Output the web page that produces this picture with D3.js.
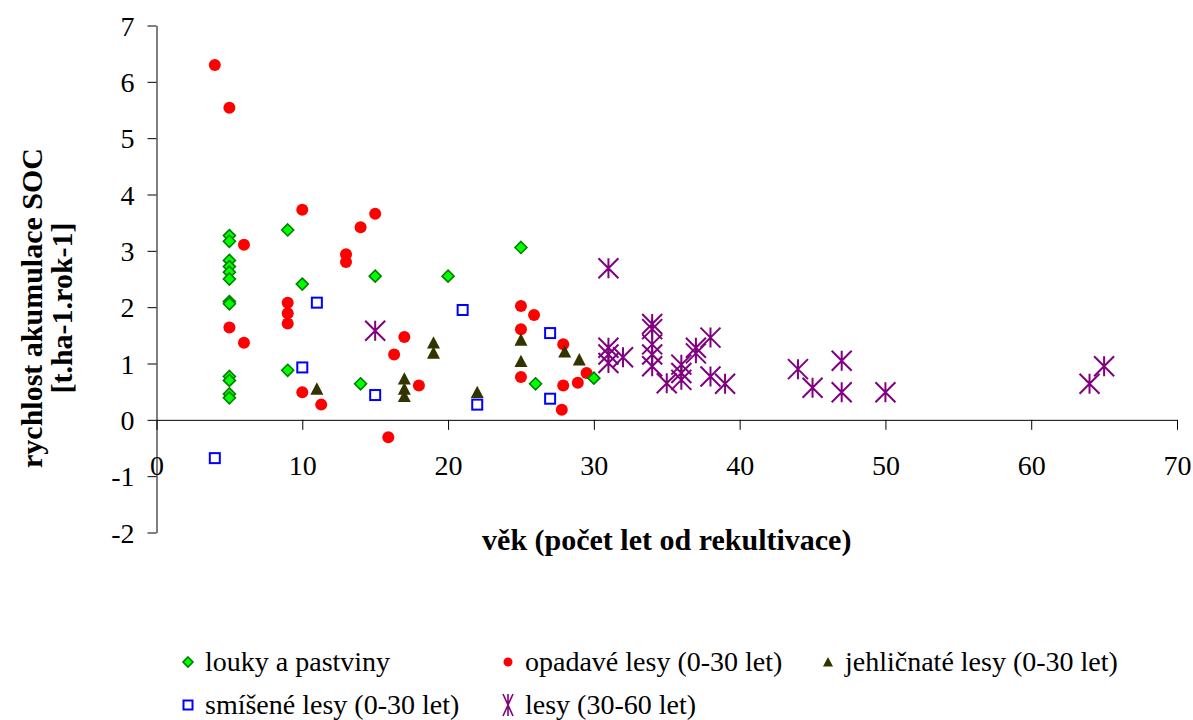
<!DOCTYPE html>
<html>
<head>
<meta charset="utf-8">
<script src="https://cdn.jsdelivr.net/npm/d3@7"></script>
<style>
  body { margin: 0; background: #fff; }
  svg text { font-family: "Liberation Serif", "DejaVu Serif", serif; fill: #000; }
</style>
</head>
<body>
<svg id="chart" width="1193" height="720"></svg>
<script>
// louky a pastviny
const loukyX = [5, 5, 5, 5, 5, 5, 5, 5, 5, 5, 5, 5, 9, 9, 10, 14, 15, 20, 25, 26, 30];
const loukyY = [3.27, 3.17, 2.83, 2.72, 2.62, 2.5, 2.1, 2.06, 0.77, 0.7, 0.46, 0.39, 3.37, 0.88, 2.41, 0.64, 2.55, 2.55, 3.06, 0.64, 0.74];

// opadavé lesy (0-30 let)
const opadaveX = [4, 5, 10, 15, 14, 6, 13, 13, 9, 9, 9, 5, 6, 10, 11.3, 17, 16.3, 18, 15.9, 25, 25.9, 25, 27.9, 25, 27.9, 28.9, 29.5, 27.8];
const opadaveY = [6.3, 5.54, 3.73, 3.66, 3.42, 3.11, 2.94, 2.8, 2.08, 1.89, 1.71, 1.64, 1.37, 0.49, 0.27, 1.47, 1.16, 0.61, -0.31, 2.02, 1.86, 1.61, 1.34, 0.76, 0.61, 0.66, 0.83, 0.18];

// jehličnaté lesy (0-30 let)
const jehlX = [11, 17, 17, 17, 19, 19, 22, 25, 25, 28, 29];
const jehlY = [0.55, 0.73, 0.55, 0.42, 1.37, 1.19, 0.49, 1.42, 1.04, 1.21, 1.07];

// smíšené lesy (0-30 let)
const smiseneX = [4, 10, 11, 15, 21, 22, 27, 27];
const smiseneY = [-0.68, 0.93, 2.08, 0.44, 1.95, 0.27, 1.54, 0.375];

// lesy (30-60 let)
const lesyX = [15, 31, 31, 31, 31, 32, 34, 34, 34, 34, 34, 35, 36, 36, 36, 37, 37, 38, 38, 39, 44, 45, 47, 47, 50, 64, 65];
const lesyY = [1.58, 2.69, 1.28, 1.16, 1.01, 1.11, 1.7, 1.61, 1.34, 1.16, 0.95, 0.65, 0.98, 0.83, 0.71, 1.28, 1.18, 1.46, 0.77, 0.64, 0.9, 0.57, 1.05, 0.49, 0.49, 0.64, 0.95];

const xTicks = [0, 10, 20, 30, 40, 50, 60, 70];
const yTicks = [-2, -1, 0, 1, 2, 3, 4, 5, 6, 7];
const seriesNames = ["louky a pastviny", "opadavé lesy (0-30 let)", "jehličnaté lesy (0-30 let)", "smíšené lesy (0-30 let)", "lesy (30-60 let)"];

const FONT = '"Liberation Serif", "DejaVu Serif", serif';
const svg = d3.select("#chart");

const x = d3.scaleLinear().domain([0, 70]).range([156.5, 1177]);
const y = d3.scaleLinear().domain([-2, 7]).range([532.5, 25.5]);

// osa Y
const yAxis = svg.append("g")
    .attr("transform", `translate(${x(0)},0)`)
    .call(d3.axisLeft(y).tickValues(yTicks).tickSize(9).tickPadding(13).tickSizeOuter(0)
        .tickFormat(d => String(d)));
yAxis.attr("font-family", FONT);
yAxis.select(".domain").attr("stroke", "#000");
yAxis.selectAll("text").style("font-size", "28px").style("font-family", FONT).attr("dy", "0.34em");

// osa X (v nule)
const xAxis = svg.append("g")
    .attr("transform", `translate(0,${y(0)})`)
    .call(d3.axisBottom(x).tickValues(xTicks).tickSize(10).tickPadding(25).tickSizeOuter(0));
xAxis.attr("font-family", FONT);
xAxis.select(".domain").attr("stroke", "#000");
xAxis.selectAll("text").style("font-size", "28px").style("font-family", FONT);

// popisky os
svg.append("text")
    .attr("x", (x(0) + x(70)) / 2)
    .attr("y", 550)
    .attr("text-anchor", "middle")
    .style("font-size", "30px")
    .style("font-weight", "bold")
    .text("věk (počet let od rekultivace)");

const yt = svg.append("text")
    .attr("transform", "translate(42,308) rotate(-90)")
    .attr("text-anchor", "middle")
    .style("font-size", "30px")
    .style("font-weight", "bold");
yt.append("tspan").attr("x", 0).attr("y", 0).text("rychlost akumulace SOC");
yt.append("tspan").attr("x", 0).attr("y", 30).text("[t.ha-1.rok-1]");

// markery
const zip = (xs, ys) => xs.map((v, i) => ({ x: v, y: ys[i] }));

function drawMarker(g, type, s) {
    if (type === "diamond") {
        g.append("path").attr("d", `M0,${-s}L${s},0L0,${s}L${-s},0Z`)
            .attr("fill", "#00ff00").attr("stroke", "#008000").attr("stroke-width", 1.6);
    } else if (type === "circle") {
        g.append("circle").attr("r", s).attr("fill", "#ff0000");
    } else if (type === "triangle") {
        g.append("path").attr("d", `M0,${-s}L${s},${s * 0.9}L${-s},${s * 0.9}Z`)
            .attr("fill", "#333300");
    } else if (type === "square") {
        g.append("rect").attr("x", -s).attr("y", -s).attr("width", 2 * s).attr("height", 2 * s)
            .attr("fill", "#fff").attr("stroke", "#0000ff").attr("stroke-width", 2);
    } else if (type === "star") {
        g.append("path").attr("d", `M0,${-s}V${s}M${-s},${-s}L${s},${s}M${-s},${s}L${s},${-s}`)
            .attr("fill", "none").attr("stroke", "#800080").attr("stroke-width", 2);
    }
}

const series = [
    { data: zip(opadaveX, opadaveY), type: "circle", size: 6 },
    { data: zip(jehlX, jehlY), type: "triangle", size: 6.5 },
    { data: zip(smiseneX, smiseneY), type: "square", size: 5 },
    { data: zip(lesyX, lesyY), type: "star", size: 10 },
    { data: zip(loukyX, loukyY), type: "diamond", size: 6 }
];

series.forEach(s => {
    svg.append("g").selectAll("g")
        .data(s.data)
        .enter().append("g")
        .attr("transform", d => `translate(${x(d.x)},${y(d.y)})`)
        .each(function () { drawMarker(d3.select(this), s.type, s.size); });
});

// legenda
const legendItems = [
    { name: seriesNames[0], type: "diamond", size: 5, col: 0, row: 0 },
    { name: seriesNames[1], type: "circle", size: 4.5, col: 1, row: 0 },
    { name: seriesNames[2], type: "triangle", size: 5, col: 2, row: 0 },
    { name: seriesNames[3], type: "square", size: 4.5, col: 0, row: 1 },
    { name: seriesNames[4], type: "star", size: 8, col: 1, row: 1 }
];
const colX = [180, 500, 820], rowY = [662, 705];

const leg = svg.append("g").selectAll("g")
    .data(legendItems)
    .enter().append("g")
    .attr("transform", d => `translate(${colX[d.col]},${rowY[d.row]})`);

leg.each(function (d) {
    const g = d3.select(this).append("g").attr("transform", "translate(8,0)");
    if (d.type === "star") {
        g.append("path").attr("d", "M0,-11V11M-5,-11L5,11M-5,11L5,-11")
            .attr("fill", "none").attr("stroke", "#800080").attr("stroke-width", 1.6);
    } else {
        drawMarker(g, d.type, d.size);
    }
});
leg.append("text")
    .attr("x", 25)
    .attr("dy", "0.32em")
    .style("font-size", "28px")
    .style("font-family", FONT)
    .text(d => d.name);
</script>
</body>
</html>
